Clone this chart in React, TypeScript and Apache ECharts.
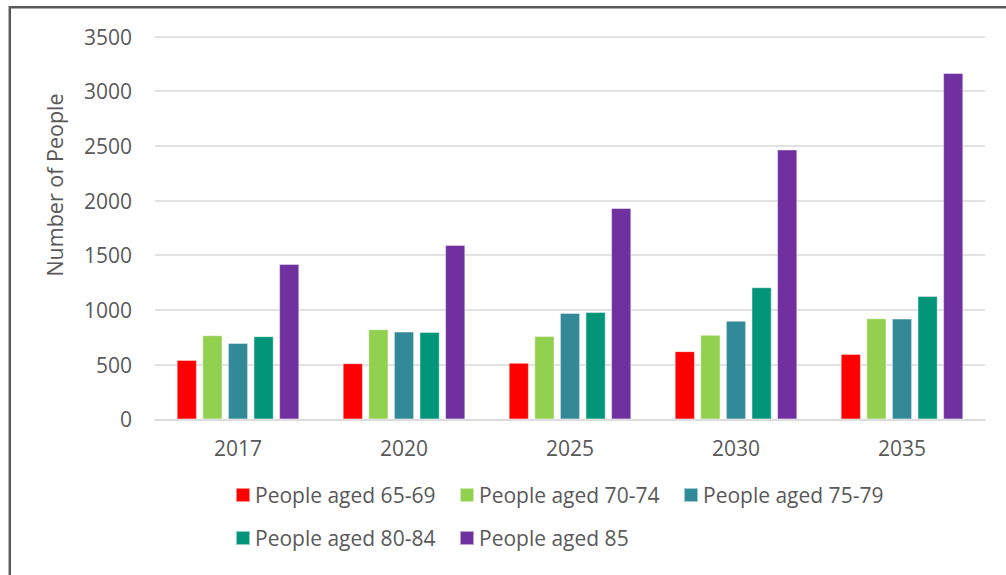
import React, { useEffect, useRef } from "react";
import * as echarts from "echarts";

const categories = ["2017", "2020", "2025", "2030", "2035"];
const seriesNames = [
  "People aged 65-69",
  "People aged 70-74",
  "People aged 75-79",
  "People aged 80-84",
  "People aged 85",
];
const aged6569 = [542, 512, 515, 622, 597];
const aged7074 = [768, 823, 761, 771, 923];
const aged7579 = [697, 801, 972, 901, 920];
const aged8084 = [759, 798, 981, 1207, 1127];
const aged85 = [1420, 1593, 1931, 2466, 3165];
const seriesValues = [aged6569, aged7074, aged7579, aged8084, aged85];
const colors = ["#FF0000", "#92D050", "#328A99", "#03957A", "#7030A0"];

const FONT = "'Open Sans', 'Liberation Sans', sans-serif";
const TEXT = "#595959";

export default function App() {
  const ref = useRef<HTMLDivElement>(null);
  useEffect(() => {
    if (!ref.current) return;
    const chart = echarts.init(ref.current, undefined, { renderer: "svg" });
    const legendText = {
      color: TEXT,
      fontSize: 21,
      fontFamily: FONT,
      width: 199,
      lineHeight: 24,
    };
    chart.setOption({
      animation: false,
      backgroundColor: "#ffffff",
      textStyle: { fontFamily: FONT },
      grid: { left: 155, right: 21, top: 36.5, bottom: 155.7 },
      xAxis: {
        type: "category",
        data: categories,
        axisLine: { lineStyle: { color: "#d9d9d9", width: 1.5 } },
        axisTick: { show: false },
        axisLabel: { color: TEXT, fontSize: 21, fontFamily: FONT, margin: 18 },
      },
      yAxis: {
        type: "value",
        min: 0,
        max: 3500,
        interval: 500,
        axisLine: { show: false },
        axisTick: { show: false },
        splitLine: { lineStyle: { color: "#d9d9d9", width: 1.5 } },
        axisLabel: {
          color: TEXT,
          fontSize: 21,
          fontFamily: FONT,
          margin: 23,
          formatter: (v: number) => String(v),
        },
      },
      legend: [
        {
          data: seriesNames.slice(0, 3),
          left: 235,
          top: 483,
          padding: 0,
          itemWidth: 14,
          itemHeight: 14,
          itemGap: 5,
          icon: "rect",
          textStyle: legendText,
        },
        {
          data: seriesNames.slice(3),
          left: 235,
          top: 526,
          padding: 0,
          itemWidth: 14,
          itemHeight: 14,
          itemGap: 5,
          icon: "rect",
          textStyle: legendText,
        },
      ],
      graphic: [
        {
          type: "rect",
          shape: { x: 9.8, y: 7.2, width: 1200, height: 1000 },
          style: { fill: "none", stroke: "#5a5a5a", lineWidth: 2.5 },
          silent: true,
        },
        {
          type: "text",
          x: 54,
          y: 185,
          rotation: Math.PI / 2,
          style: {
            text: "Number of People",
            fill: TEXT,
            fontSize: 21.5,
            fontFamily: FONT,
            align: "center",
            verticalAlign: "middle",
          },
        },
      ],
      series: seriesNames.map((name, i) => ({
        name,
        type: "bar",
        data: seriesValues[i],
        barWidth: 20,
        barGap: "28%",
        itemStyle: {
          color: colors[i],
          borderColor: "rgba(255,255,255,0.55)",
          borderWidth: 0.8,
        },
      })),
    });
    return () => chart.dispose();
  }, []);
  return (
    <div
      ref={ref}
      style={{ position: "fixed", left: 0, top: 0, width: 1006, height: 575 }}
    />
  );
}
